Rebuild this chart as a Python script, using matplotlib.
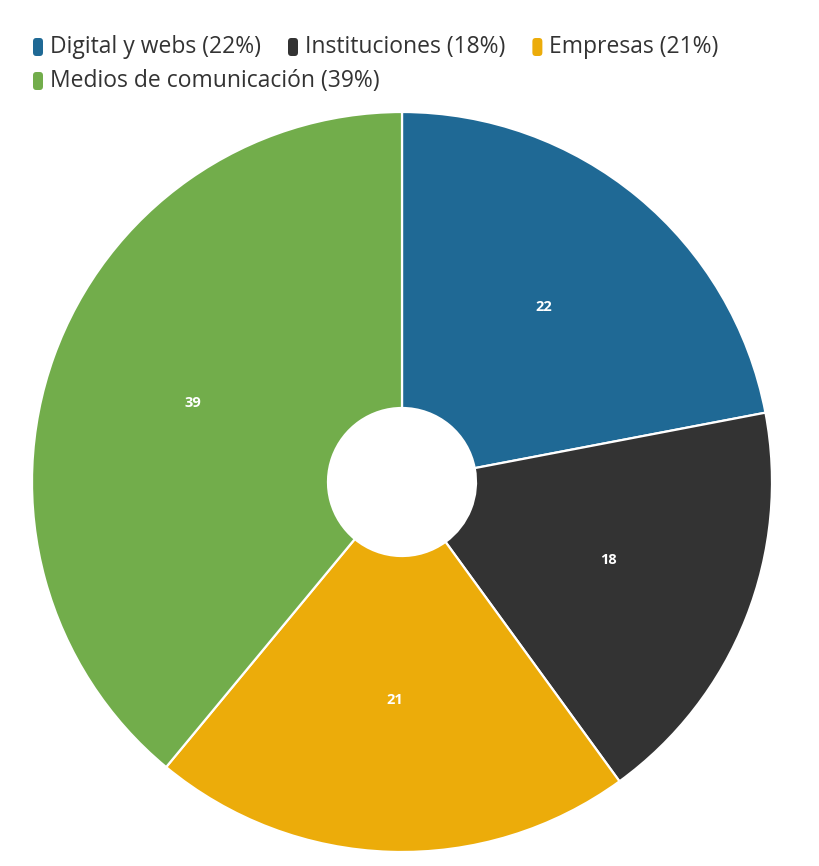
import matplotlib.pyplot as plt
from matplotlib.patches import FancyBboxPatch

plt.rcParams['font.family'] = ['Open Sans', 'DejaVu Sans']

categories = ["Digital y webs", "Instituciones", "Empresas", "Medios de comunicación"]
values = [22, 18, 21, 39]
colors = ["#1f6995", "#333333", "#ecac0a", "#72ad4b"]

W, H = 820, 866
fig = plt.figure(figsize=(W / 100, H / 100), dpi=100)

# pie axes: centre (402, 482) px, radius 370 px
cx, cy, r = 402, 482, 370
ax = fig.add_axes([(cx - r) / W, (H - cy - r) / H, 2 * r / W, 2 * r / H])
wedges, texts = ax.pie(values, colors=colors, startangle=90, counterclock=False,
                       radius=1, labels=[str(v) for v in values], labeldistance=0.6,
                       wedgeprops=dict(width=1 - 74 / 370, edgecolor="white", linewidth=1.6))
for t in texts:
    t.set_color("white")
    t.set_fontsize(10.5)
    t.set_fontweight("bold")
    t.set_ha("center")
    t.set_va("baseline")
ax.set_xlim(-1, 1)
ax.set_ylim(-1, 1)
ax.axis("off")

# legend drawn manually
rows = [[0, 1, 2], [3]]
row_y = [47, 81]
for ri, row in enumerate(rows):
    x = 33
    for i in row:
        y = row_y[ri]
        fig.patches.append(FancyBboxPatch((x / W, (H - y - 9) / H), 10 / W, 18 / H,
                                          boxstyle="round,pad=0,rounding_size=0.004",
                                          transform=fig.transFigure, facecolor=colors[i],
                                          edgecolor="none"))
        t = fig.text((x + 17) / W, (H - y) / H, f"{categories[i]} ({values[i]}%)",
                     fontsize=16.5, color="#333333", va="center", ha="left")
        fig.canvas.draw()
        bb = t.get_window_extent()
        x = bb.x1 + 27

fig.savefig("out.png", dpi=100)
